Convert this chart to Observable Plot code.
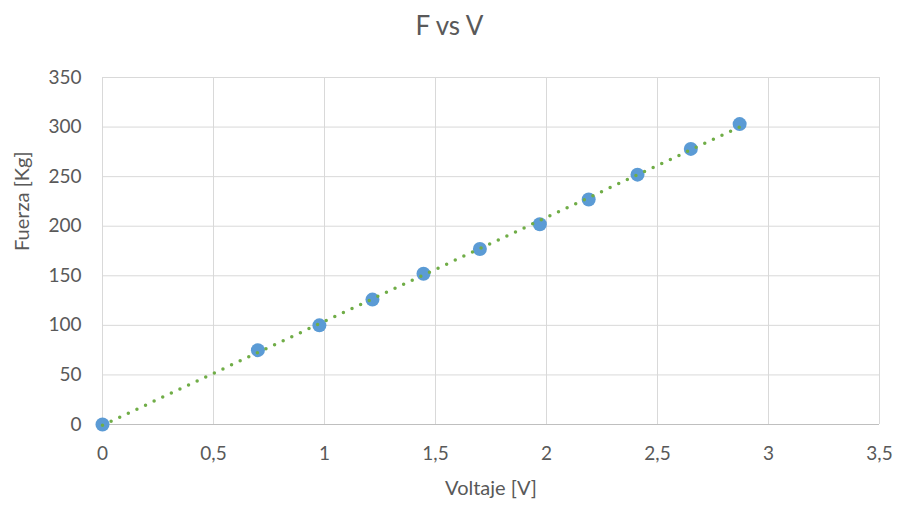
<!DOCTYPE html>
<html>
<head>
<meta charset="utf-8">
<script src="https://cdn.jsdelivr.net/npm/d3@7"></script>
<script src="https://cdn.jsdelivr.net/npm/@observablehq/plot@0.6"></script>
<style>
  html, body { margin: 0; padding: 0; background: #fff; }
  #chart { width: 899px; height: 508px; position: relative; font-family: Lato, "Open Sans", sans-serif; }
  #title { height: 50px; line-height: 50px; text-align: center; font-size: 26px; color: #595959; }
</style>
</head>
<body>
<div id="chart">
  <div id="title">F vs V</div>
</div>
<script>
// Measured voltage and force pairs
const voltaje = [0, 0.70, 0.977, 1.216, 1.446, 1.70, 1.97, 2.19, 2.41, 2.65, 2.87];
const fuerza  = [0, 75, 100, 126, 152, 177, 202, 227, 252, 278, 303];

const xTicks = [0, 0.5, 1, 1.5, 2, 2.5, 3, 3.5];
const yTicks = [0, 50, 100, 150, 200, 250, 300, 350];
const fmtComma = d => String(d).replace(".", ",");

const data = voltaje.map((v, i) => ({v, f: fuerza[i]}));

const plot = Plot.plot({
  width: 899,
  height: 458,
  marginTop: 27,
  marginBottom: 84,
  marginLeft: 102,
  marginRight: 20,
  style: {fontFamily: "Lato, 'Open Sans', sans-serif", fontSize: "19px", color: "#595959", background: "#fff"},
  x: {domain: [0, 3.5]},
  y: {domain: [0, 350]},
  marks: [
    Plot.gridX(xTicks, {stroke: "#d9d9d9", strokeOpacity: 1, strokeWidth: 1}),
    Plot.gridY(yTicks, {stroke: "#d9d9d9", strokeOpacity: 1, strokeWidth: 1}),
    Plot.ruleY([0], {stroke: "#bfbfbf", strokeWidth: 1}),
    Plot.axisX(xTicks, {tickSize: 0, tickPadding: 22, tickFormat: fmtComma, label: null, fill: "#595959", fontSize: 19}),
    Plot.axisY(yTicks, {tickSize: 0, tickPadding: 21, label: null, fill: "#595959", fontSize: 19}),
    Plot.text(["Voltaje [V]"], {frameAnchor: "bottom", dy: 70, fontSize: 20, fill: "#595959"}),
    Plot.text(["Fuerza [Kg]"], {frameAnchor: "left", dx: -80, rotate: -90, fontSize: 20, fill: "#595959"}),
    Plot.dot(data, {x: "v", y: "f", r: 7, fill: "#5b9bd5", stroke: "none"}),
    Plot.linearRegressionY(data, {x: "v", y: "f", ci: 0, stroke: "#70ad47", strokeWidth: 3.5, strokeDasharray: "0 9.5", strokeLinecap: "round"})
  ]
});
document.getElementById("chart").appendChild(plot);
</script>
</body>
</html>
